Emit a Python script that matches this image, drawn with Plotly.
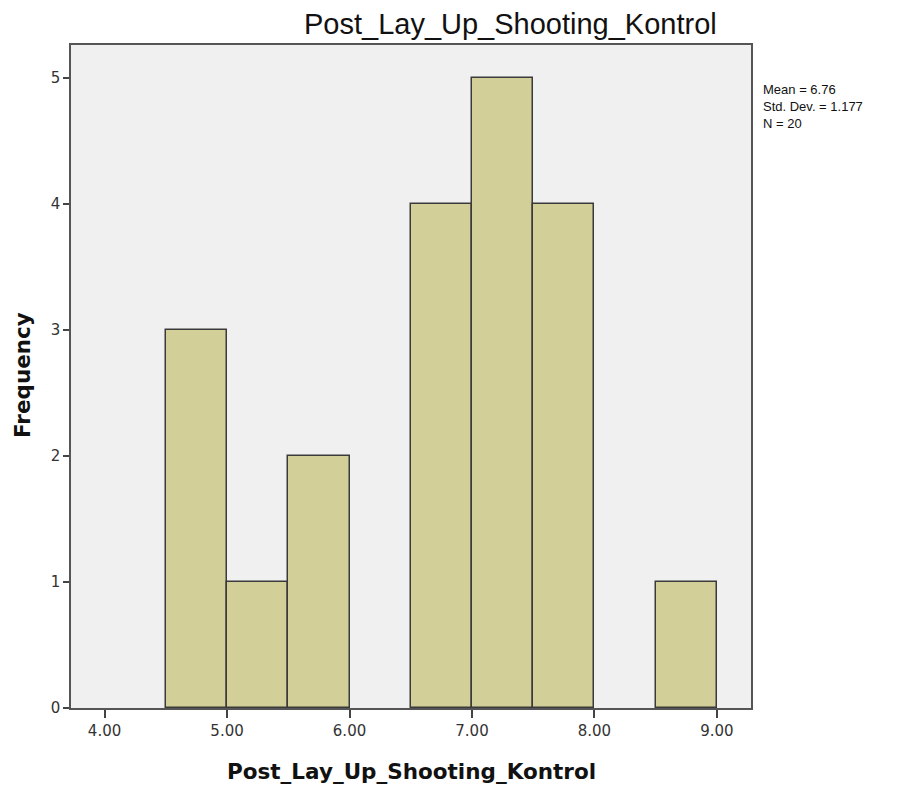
import plotly.graph_objects as go

bin_starts = [4.5, 5.0, 5.5, 6.5, 7.0, 7.5, 8.5]
counts = [3, 1, 2, 4, 5, 4, 1]
bin_width = 0.5
x_tickvals = [4, 5, 6, 7, 8, 9]
x_ticktext = ["4.00", "5.00", "6.00", "7.00", "8.00", "9.00"]
y_tickvals = [0, 1, 2, 3, 4, 5]
title_text = "Post_Lay_Up_Shooting_Kontrol"
x_title = "Post_Lay_Up_Shooting_Kontrol"
y_title = "Frequency"
stats_lines = ["Mean = 6.76", "Std. Dev. = 1.177", "N = 20"]

W, H = 902, 787
OFF = 8  # page body margin
L, T = 71 - OFF, 45 - OFF
R = W - (751 - OFF)
B = H - (708 - OFF)
pw, ph = W - L - R, H - T - B


def px(xr):
    return (xr - OFF - L) / pw


def py(yr):
    return 1 - (yr - OFF - T) / ph


fig = go.Figure()
fig.add_trace(go.Bar(
    x=bin_starts, y=counts, width=[bin_width] * len(bin_starts), offset=0,
    marker=dict(color="#D3CF98", line=dict(color="#3a3a3a", width=1.5)),
    hoverinfo="x+y",
))

fig.update_layout(
    width=W, height=H,
    margin=dict(l=L, r=R, t=T, b=B, autoexpand=False),
    paper_bgcolor="white", plot_bgcolor="#F0F0F0",
    showlegend=False,
    bargap=0,
    xaxis=dict(range=[3.726, 9.278], tickvals=x_tickvals, ticktext=x_ticktext,
               ticks="outside", ticklen=8, tickwidth=1.5, tickcolor="#444", automargin=False,
               showgrid=False, zeroline=False, showline=True, linecolor="#555", linewidth=1.5, mirror=True,
               tickfont=dict(family="DejaVu Sans, Verdana", size=15, color="#333")),
    yaxis=dict(range=[0, 5.262], tickvals=y_tickvals,
               ticks="outside", ticklen=6, tickwidth=1.5, tickcolor="#444", automargin=False,
               showgrid=False, zeroline=False, showline=True, linecolor="#555", linewidth=1.5, mirror=True,
               tickfont=dict(family="DejaVu Sans, Verdana", size=15, color="#333")),
)

fig.add_annotation(
    text=title_text, xref="paper", yref="paper",
    x=px(510), y=py(24), xanchor="center", yanchor="middle", showarrow=False,
    font=dict(family="Liberation Sans, Arial", size=29, color="#111"),
)
fig.add_annotation(
    text="<b>%s</b>" % x_title, xref="paper", yref="paper",
    x=px(411), y=py(771), xanchor="center", yanchor="middle",
    showarrow=False, font=dict(family="DejaVu Sans, Verdana", size=21.5, color="#111"),
)
fig.add_annotation(
    text="<b>%s</b>" % y_title, xref="paper", yref="paper", textangle=-90,
    x=px(22), y=py(375), xanchor="center", yanchor="middle",
    showarrow=False, font=dict(family="DejaVu Sans, Verdana", size=21.5, color="#111"),
)
fig.add_annotation(
    text="<br>".join(stats_lines), xref="paper", yref="paper",
    x=px(761), y=py(80),
    xanchor="left", yanchor="top", align="left", showarrow=False,
    font=dict(family="Liberation Sans, Arial", size=13, color="#111"),
)

fig.write_html("out.html")
